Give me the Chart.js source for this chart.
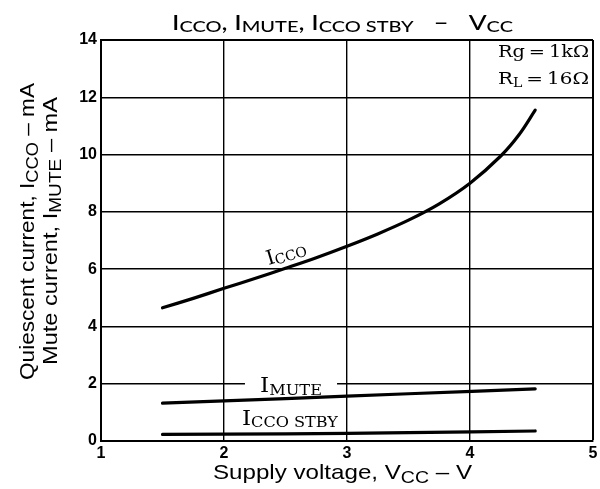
<!DOCTYPE html>
<html><head><meta charset="utf-8">
<script src="https://cdn.jsdelivr.net/npm/chart.js@4.4.1/dist/chart.umd.min.js"></script>
<style>
html,body{margin:0;padding:0;background:#fff;overflow:hidden}
#wrap{width:600px;height:489px;overflow:hidden;position:relative;background:#fff}
canvas{display:block}
</style>
</head><body>
<div id="wrap"><canvas id="c" width="620" height="489"></canvas></div>
<script>
// ---- data ----
const xTicks = [1, 2, 3, 4, 5];
const yTicks = [0, 2, 4, 6, 8, 10, 12, 14];
const vccIcco = [1.5, 1.75, 2.0, 2.25, 2.5, 2.75, 3.0, 3.25, 3.5, 3.75, 4.0, 4.25, 4.4, 4.53];
const icco    = [4.65, 4.98, 5.33, 5.67, 6.03, 6.40, 6.80, 7.23, 7.71, 8.28, 9.0, 9.95, 10.7, 11.55];
const vccMute = [1.5, 2.5, 3.5, 4.53];
const imute   = [1.32, 1.48, 1.65, 1.82];
const vccStby = [1.5, 2.5, 3.5, 4.53];
const iccoStby = [0.23, 0.25, 0.29, 0.35];

const pts = (xs, ys) => xs.map((x, i) => ({x: x, y: ys[i]}));

function rich(ctx, segs, x, y, o) {
  o = o || {};
  ctx.save();
  let widths = segs.map(s => { ctx.font = s.f; return ctx.measureText(s.t).width; });
  let total = widths.reduce((a, b) => a + b, 0);
  ctx.translate(x, y);
  if (o.rot) ctx.rotate(o.rot);
  const sx = o.width ? o.width / total : 1;
  ctx.scale(sx, 1);
  let cx = o.align === 'center' ? -total / 2 : (o.align === 'right' ? -total : 0);
  if (o.bg) { ctx.fillStyle = '#fff'; ctx.fillRect(cx + o.bg[0], o.bg[1], total + o.bg[2], o.bg[3]); }
  ctx.fillStyle = '#000';
  ctx.textAlign = 'left';
  ctx.textBaseline = 'alphabetic';
  segs.forEach((s, i) => { ctx.font = s.f; ctx.fillText(s.t, cx, s.dy || 0); cx += widths[i]; });
  ctx.restore();
}

const SANS = '"Liberation Sans", Arial, sans-serif';
const SERIF = '"DejaVu Serif", serif';
const TITLE = 'Lato, "Open Sans", sans-serif';

const textPlugin = {
  id: 'texts',
  afterDraw(chart) {
    const ctx = chart.ctx;
    const xs = chart.scales.x, ys = chart.scales.y;
    // title
    const tb = '500 21px ' + TITLE, ts = '500 16px ' + TITLE;
    rich(ctx, [
      {t: 'I', f: tb}, {t: 'CCO', f: ts, dy: 2}, {t: ', I', f: tb}, {t: 'MUTE', f: ts, dy: 2},
      {t: ', I', f: tb}, {t: 'CCO STBY', f: ts, dy: 2}, {t: '   \u2013   V', f: tb}, {t: 'CC', f: ts, dy: 2}
    ], 172, 30, {width: 341});
    // x axis title
    const xb = '21px ' + SANS, xsub = '17px ' + SANS;
    rich(ctx, [
      {t: 'Supply voltage, V', f: xb}, {t: 'CC', f: xsub, dy: 3.5}, {t: ' \u2013 V', f: xb}
    ], 213, 479, {width: 259});
    // y axis titles
    rich(ctx, [
      {t: 'Quiescent current, I', f: xb}, {t: 'CCO', f: xsub, dy: 3.5}, {t: ' \u2013 mA', f: xb}
    ], 34, 231.5, {rot: -Math.PI / 2, align: 'center', width: 297});
    rich(ctx, [
      {t: 'Mute current, I', f: xb}, {t: 'MUTE', f: xsub, dy: 3.5}, {t: ' \u2013 mA', f: xb}
    ], 57, 231, {rot: -Math.PI / 2, align: 'center', width: 268});
    // curve labels
    const lb = '20px ' + SERIF, lsub = '14px ' + SERIF;
    rich(ctx, [{t: 'I', f: lb}, {t: 'CCO', f: lsub, dy: 2}],
      xs.getPixelForValue(2.52), ys.getPixelForValue(6.35), {rot: -17 * Math.PI / 180, align: 'center'});
    rich(ctx, [{t: 'I', f: lb}, {t: 'MUTE', f: lsub, dy: 3}],
      260, ys.getPixelForValue(1.71), {bg: [-13, -12, 26, 8], width: 62});
    rich(ctx, [{t: 'I', f: lb}, {t: 'CCO STBY', f: lsub, dy: 2.5}],
      242, ys.getPixelForValue(0.57), {width: 96});
    // conditions
    const ab = '17px ' + SERIF, asub = '12px ' + SERIF;
    rich(ctx, [{t: 'Rg\u2009=\u20091k\u03A9', f: ab}], 589, 57, {align: 'right', width: 91});
    rich(ctx, [{t: 'R', f: ab}, {t: 'L', f: asub, dy: 3}, {t: '\u2009=\u200916\u03A9', f: ab}], 589, 84, {align: 'right', width: 91});
  }
};

const lineDs = (data) => ({
  data: data, borderColor: '#000', borderWidth: 3.2, pointRadius: 0,
  tension: 0.35, fill: false, borderCapStyle: 'round'
});

new Chart(document.getElementById('c'), {
  type: 'line',
  data: {
    datasets: [
      lineDs(pts(vccIcco, icco)),
      lineDs(pts(vccMute, imute)),
      lineDs(pts(vccStby, iccoStby))
    ]
  },
  options: {
    responsive: false,
    animation: false,
    devicePixelRatio: 1,
    layout: {padding: {top: 40, right: 27, left: 0, bottom: 0}},
    plugins: {legend: {display: false}, tooltip: {enabled: false}, title: {display: false}},
    scales: {
      x: {
        type: 'linear', min: xTicks[0], max: xTicks[xTicks.length - 1],
        afterBuildTicks: (s) => { s.ticks = xTicks.map(v => ({value: v})); },
        afterFit: (s) => { s.height = 48; },
        ticks: {color: '#000', font: {family: SANS, size: 16, weight: 'bold'}, padding: 3, maxRotation: 0, autoSkip: false},
        grid: {color: '#000', lineWidth: (c) => (c.tick && c.tick.value === 5 ? 2 : 1.4), drawTicks: false},
        border: {display: true, color: '#000', width: 2}
      },
      y: {
        type: 'linear', min: yTicks[0], max: yTicks[yTicks.length - 1],
        afterBuildTicks: (s) => { s.ticks = yTicks.map(v => ({value: v})); },
        afterFit: (s) => { s.width = 101; },
        ticks: {color: '#000', font: {family: SANS, size: 16, weight: 'bold'}, padding: 4, autoSkip: false},
        grid: {color: '#000', lineWidth: (c) => (c.tick && c.tick.value === 14 ? 2 : 1.4), drawTicks: false},
        border: {display: true, color: '#000', width: 2}
      }
    }
  },
  plugins: [textPlugin]
});
</script>
</body></html>
